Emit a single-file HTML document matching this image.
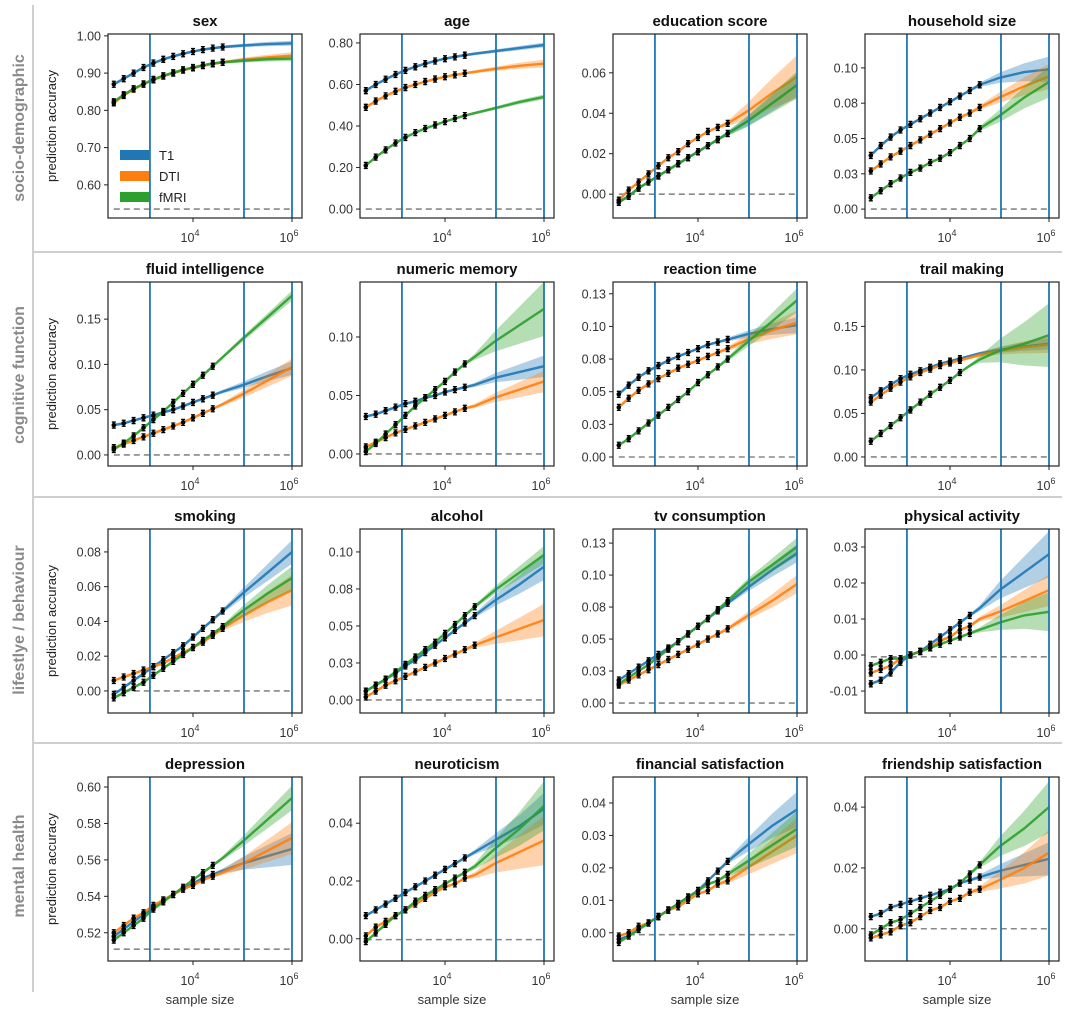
<!DOCTYPE html>
<html><head><meta charset="utf-8"><style>
html,body{margin:0;padding:0;background:#fff;}
svg text{font-family:"Liberation Sans",sans-serif;}
</style></head><body>
<svg id="fig" width="1080" height="1020" viewBox="0 0 1080 1020" xmlns="http://www.w3.org/2000/svg">
<line x1="33" y1="5" x2="33" y2="992" stroke="#cfcfcf" stroke-width="2"/>
<line x1="33" y1="252" x2="1062" y2="252" stroke="#cfcfcf" stroke-width="2"/>
<line x1="33" y1="497" x2="1062" y2="497" stroke="#cfcfcf" stroke-width="2"/>
<line x1="33" y1="743" x2="1062" y2="743" stroke="#cfcfcf" stroke-width="2"/>
<text transform="translate(24,128) rotate(-90)" text-anchor="middle" font-size="16" font-weight="bold" fill="#8a8a8a">socio-demographic</text>
<text transform="translate(24,375) rotate(-90)" text-anchor="middle" font-size="16" font-weight="bold" fill="#8a8a8a">cognitive function</text>
<text transform="translate(24,620) rotate(-90)" text-anchor="middle" font-size="16" font-weight="bold" fill="#8a8a8a">lifestlye / behaviour</text>
<text transform="translate(24,866) rotate(-90)" text-anchor="middle" font-size="16" font-weight="bold" fill="#8a8a8a">mental health</text>
</svg>
<script>
// log10 sample-size grid shared by all series
const gridLogN = [2.4,2.6,2.8,3.0,3.2,3.4,3.6,3.8,4.0,4.2,4.4,4.6,5.0,5.5,6.0];
const vlinesLogN = [3.13,5.03,6.0];
const titles = ["sex","age","education score","household size","fluid intelligence","numeric memory","reaction time","trail making","smoking","alcohol","tv consumption","physical activity","depression","neuroticism","financial satisfaction","friendship satisfaction"];
const yDomains = [[0.511,1.005],[-0.043,0.843],[-0.0118,0.0792],[-0.0063,0.124],[-0.0122,0.191],[-0.0103,0.147],[-0.0069,0.134],[-0.0104,0.201],[-0.0127,0.0932],[-0.0088,0.1155],[-0.0078,0.136],[-0.0161,0.035],[0.5045,0.6055],[-0.0077,0.056],[-0.0087,0.048],[-0.0106,0.0499]];
const baselines = [0.535,0,0,0,0,0,0,0,0,0,0,-0.0005,0.511,-0.0003,-0.0006,0];
const yTicks = [[0.6,0.7,0.8,0.9,1.0],[0,0.2,0.4,0.6,0.8],[0,0.02,0.04,0.06],[0,0.025,0.05,0.075,0.1],[0,0.05,0.1,0.15],[0,0.05,0.1],[0,0.025,0.05,0.075,0.1,0.125],[0,0.05,0.1,0.15],[0,0.02,0.04,0.06,0.08],[0,0.025,0.05,0.075,0.1],[0,0.025,0.05,0.075,0.1,0.125],[-0.01,0,0.01,0.02,0.03],[0.52,0.54,0.56,0.58,0.60],[0,0.02,0.04],[0,0.01,0.02,0.03,0.04],[0,0.02,0.04]];
const yTickLabels = [["0.60","0.70","0.80","0.90","1.00"],["0.00","0.20","0.40","0.60","0.80"],["0.00","0.02","0.04","0.06"],["0.00","0.03","0.05","0.08","0.10"],["0.00","0.05","0.10","0.15"],["0.00","0.05","0.10"],["0.00","0.03","0.05","0.08","0.10","0.13"],["0.00","0.05","0.10","0.15"],["0.00","0.02","0.04","0.06","0.08"],["0.00","0.03","0.05","0.08","0.10"],["0.00","0.03","0.05","0.08","0.10","0.13"],["-0.01","0.00","0.01","0.02","0.03"],["0.52","0.54","0.56","0.58","0.60"],["0.00","0.02","0.04"],["0.00","0.01","0.02","0.03","0.04"],["0.00","0.02","0.04"]];
const xTickLabels = ["10","10"];
const xTickExp = ["4","6"];
const xTickLogN = [4,6];
const seriesNames = ["T1","DTI","fMRI"];
const dotEnd = [4.6,4.4,4.6,4.6,4.4,4.4,4.6,4.2,4.6,4.6,4.6,4.4,4.4,4.4,4.6,4.6];
const t1Values = [
[.870,.885,.900,.915,.927,.937,.945,.952,.958,.963,.967,.970,.974,.978,.980],
[.570,.600,.625,.648,.668,.685,.700,.713,.724,.733,.741,.748,.760,.775,.790],
[-.004,-.001,.003,.006,.009,.012,.015,.018,.021,.024,.027,.030,.036,.045,.054],
[.038,.045,.051,.056,.060,.064,.068,.072,.076,.080,.084,.088,.093,.097,.099],
[.033,.035,.038,.041,.044,.047,.050,.054,.058,.062,.066,.070,.077,.087,.096],
[.032,.034,.037,.040,.043,.045,.048,.050,.053,.055,.057,.059,.065,.070,.075],
[.048,.055,.061,.066,.070,.074,.077,.080,.083,.086,.088,.090,.094,.098,.101],
[.068,.076,.083,.090,.095,.099,.103,.107,.110,.113,.116,.119,.123,.127,.130],
[-.002,.002,.006,.010,.014,.018,.022,.026,.031,.036,.041,.046,.056,.068,.080],
[.006,.010,.014,.018,.023,.027,.032,.037,.042,.047,.052,.057,.067,.078,.090],
[.018,.023,.028,.033,.038,.043,.048,.054,.060,.066,.072,.078,.090,.104,.117],
[-.008,-.007,-.005,-.002,.000,.001,.003,.005,.007,.009,.011,.013,.018,.023,.028],
[.518,.522,.526,.530,.534,.538,.541,.544,.547,.550,.552,.554,.558,.562,.566],
[.008,.010,.012,.014,.016,.018,.020,.022,.024,.026,.028,.030,.034,.039,.045],
[-.002,-.001,.001,.003,.005,.007,.009,.011,.013,.016,.019,.022,.027,.033,.038],
[.004,.005,.007,.008,.009,.010,.011,.012,.013,.015,.016,.017,.019,.021,.023]];
const dtiValues = [
[.820,.840,.857,.870,.882,.892,.900,.908,.914,.920,.925,.929,.936,.942,.947],
[.490,.520,.545,.567,.585,.600,.614,.626,.637,.646,.654,.661,.675,.690,.700],
[-.003,.002,.006,.010,.014,.018,.021,.025,.028,.031,.033,.035,.041,.050,.058],
[.027,.032,.037,.041,.045,.049,.053,.057,.061,.065,.068,.072,.079,.087,.094],
[.008,.012,.016,.020,.024,.028,.032,.036,.041,.046,.051,.056,.067,.082,.097],
[.006,.010,.014,.018,.021,.024,.027,.030,.033,.036,.039,.041,.048,.055,.062],
[.038,.045,.051,.056,.060,.064,.068,.071,.074,.077,.080,.083,.090,.097,.103],
[.063,.071,.079,.086,.092,.097,.101,.105,.108,.111,.114,.117,.122,.126,.129],
[.006,.008,.010,.012,.014,.016,.019,.022,.025,.028,.032,.036,.043,.051,.058],
[.002,.006,.010,.013,.016,.019,.022,.025,.028,.031,.034,.037,.042,.048,.054],
[.014,.018,.022,.026,.030,.034,.038,.042,.046,.050,.054,.058,.068,.080,.093],
[-.005,-.004,-.003,-.001,.000,.001,.002,.004,.005,.007,.008,.010,.012,.015,.018],
[.520,.524,.528,.531,.535,.538,.541,.544,.546,.549,.551,.553,.558,.565,.572],
[.001,.004,.006,.008,.010,.012,.014,.016,.018,.019,.021,.022,.026,.030,.034],
[-.001,.000,.002,.003,.005,.007,.008,.010,.012,.013,.015,.016,.020,.025,.030],
[-.003,-.002,-.001,.001,.002,.004,.006,.007,.009,.010,.012,.013,.016,.020,.025]];
const fmriValues = [
[.823,.842,.858,.871,.883,.893,.901,.909,.915,.921,.926,.929,.933,.937,.939],
[.210,.250,.285,.318,.345,.368,.388,.405,.421,.436,.450,.462,.485,.515,.540],
[-.004,-.001,.003,.006,.009,.012,.015,.018,.021,.024,.027,.030,.036,.045,.054],
[.008,.013,.018,.022,.026,.029,.033,.036,.040,.045,.050,.057,.066,.079,.090],
[.006,.013,.021,.030,.039,.048,.058,.068,.078,.088,.098,.108,.128,.152,.176],
[.002,.009,.017,.025,.033,.041,.048,.055,.062,.070,.077,.083,.096,.110,.124],
[.009,.014,.020,.026,.032,.038,.044,.050,.057,.063,.069,.075,.088,.104,.120],
[.018,.027,.036,.045,.054,.063,.072,.080,.088,.097,.105,.112,.122,.130,.140],
[-.004,-.001,.002,.005,.009,.013,.017,.021,.025,.029,.033,.037,.046,.056,.065],
[.006,.010,.014,.019,.024,.029,.034,.039,.045,.051,.057,.063,.074,.086,.098],
[.015,.020,.025,.030,.036,.042,.048,.054,.060,.066,.073,.080,.094,.108,.122],
[-.003,-.002,-.001,-.001,.000,.001,.002,.003,.004,.005,.006,.007,.009,.011,.012],
[.516,.520,.524,.528,.533,.537,.541,.545,.549,.553,.557,.561,.570,.582,.594],
[-.001,.002,.005,.008,.010,.013,.015,.017,.019,.021,.023,.025,.031,.038,.046],
[-.003,-.001,.001,.003,.005,.007,.009,.011,.013,.015,.016,.018,.022,.027,.032],
[-.002,.000,.002,.003,.005,.007,.009,.011,.013,.015,.018,.021,.027,.033,.040]];
const spreadT1 = [.003,.005,.005,.008,.006,.008,.005,.005,.006,.008,.006,.006,.008,.005,.005,.005];
const spreadDTI = [.005,.012,.010,.008,.008,.008,.008,.008,.008,.010,.006,.004,.008,.008,.005,.007];
const spreadFMRI = [.003,.005,.006,.010,.004,.022,.008,.035,.006,.005,.006,.005,.006,.008,.005,.008];

const NS="http://www.w3.org/2000/svg";
const svg=document.getElementById('fig');
const colLeft=[108,360,613,865], rowTop=[34,282,529,777], PW=194, PH=184;
const colors=["#1f77b4","#ff7f0e","#2ca02c"];
function mk(tag,attrs,parent){const e=document.createElementNS(NS,tag);for(const k in attrs)e.setAttribute(k,attrs[k]);(parent||svg).appendChild(e);return e;}

for(let p=0;p<16;p++){
  const r=Math.floor(p/4), c=p%4, L=colLeft[c], T=rowTop[r];
  const g=mk('g',{});
  
  
  const [y0,y1]=yDomains[p];
  const xs=l=>L+85+(l-4)*49.5;
  const ys=v=>T+PH-(v-y0)/(y1-y0)*PH;
  const pxPerUnit=PH/(y1-y0);
  const t=mk('text',{x:L+PW/2,y:T-8,'text-anchor':'middle','font-size':15,'font-weight':'bold',fill:'#111'},g);
  t.textContent=titles[p];
  
  
  const clip=mk('clipPath',{id:'clip'+p},g);
  mk('rect',{x:L,y:T,width:PW,height:PH},clip);
  const inner=mk('g',{'clip-path':'url(#clip'+p+')'},g);
  const bl=mk('line',{x1:xs(2.4),x2:xs(6.0),y1:ys(baselines[p]),y2:ys(baselines[p]),stroke:'#888','stroke-width':1.6,'stroke-dasharray':'6,4'},inner);
  
  
  const all=[t1Values[p],dtiValues[p],fmriValues[p]];
  const spreads=[spreadT1[p],spreadDTI[p],spreadFMRI[p]];
  all.forEach((vals,s)=>{
    const top=[],bot=[];
    gridLogN.forEach((l,i)=>{
      const hw=1.4+spreads[s]*pxPerUnit*Math.max(0,(l-4.5)/1.5);
      top.push(xs(l).toFixed(1)+','+(ys(vals[i])-hw).toFixed(1));
      bot.unshift(xs(l).toFixed(1)+','+(ys(vals[i])+hw).toFixed(1));
    });
    const band=mk('polygon',{points:top.concat(bot).join(' '),fill:colors[s],'fill-opacity':0.35},inner);
    
    
    const line=mk('polyline',{points:gridLogN.map((l,i)=>xs(l).toFixed(1)+','+ys(vals[i]).toFixed(1)).join(' '),fill:'none',stroke:colors[s],'stroke-width':2.4,'stroke-opacity':0.9},inner);
    
    
  });
  vlinesLogN.forEach(l=>{
    const v=mk('line',{x1:xs(l),x2:xs(l),y1:T,y2:T+PH,stroke:'#1f77b4','stroke-width':1.8},g);
    
    
  });
  all.forEach((vals,s)=>{
    gridLogN.forEach((l,i)=>{
      if(l>dotEnd[p]+0.01) return;
      const x=xs(l), y=ys(vals[i]);
      const eb=mk('path',{d:`M${x-2} ${y-3}H${x+2}M${x} ${y-3}V${y+3}M${x-2} ${y+3}H${x+2}`,stroke:'#000','stroke-width':1.3,fill:'none'},g);
      
      
      const d=mk('circle',{cx:x,cy:y,r:2.3,fill:'#000'},g);
      
      
    });
  });
  const fr=mk('rect',{x:L,y:T,width:PW,height:PH,fill:'none',stroke:'#222','stroke-width':1.2},g);
  
  
  yTicks[p].forEach((v,i)=>{
    const y=ys(v);
    mk('line',{x1:L-4,x2:L,y1:y,y2:y,stroke:'#222','stroke-width':1},g);
    const tl=mk('text',{x:L-7,y:y+4.5,'text-anchor':'end','font-size':12.5,fill:'#333'},g);
    tl.textContent=yTickLabels[p][i];
    
    
  });
  xTickLogN.forEach((l,i)=>{
    const x=xs(l);
    mk('line',{x1:x,x2:x,y1:T+PH,y2:T+PH+4,stroke:'#222','stroke-width':1},g);
    const tl=mk('text',{x:x-3,y:T+PH+24,'text-anchor':'middle','font-size':12.5,fill:'#333'},g);
    tl.textContent=xTickLabels[i];
    const sup=mk('tspan',{dy:-6,'font-size':9},tl);
    sup.textContent=xTickExp[i];
    
    
  });
  if(c===0){
    const yl=mk('text',{transform:`translate(${L-52},${T+PH/2}) rotate(-90)`,'text-anchor':'middle','font-size':13,fill:'#222'},g);
    yl.textContent='prediction accuracy';
    
    
  }
  if(r===3){
    const xl=mk('text',{x:L+PW/2-5,y:T+PH+43,'text-anchor':'middle','font-size':13,fill:'#333'},g);
    xl.textContent='sample size';
    
    
  }
  if(p===0){
    const lg=mk('g',{},g);
    
    
    seriesNames.forEach((n,s)=>{
      const yy=155+s*21;
      const e=mk('g',{},lg);
      
      
      mk('rect',{x:120,y:yy-5,width:29,height:10,fill:colors[s]},e);
      const tx=mk('text',{x:159,y:yy+5,'font-size':13,fill:'#222'},e);
      tx.textContent=n;
    });
  }
}
</script>
</body></html>
